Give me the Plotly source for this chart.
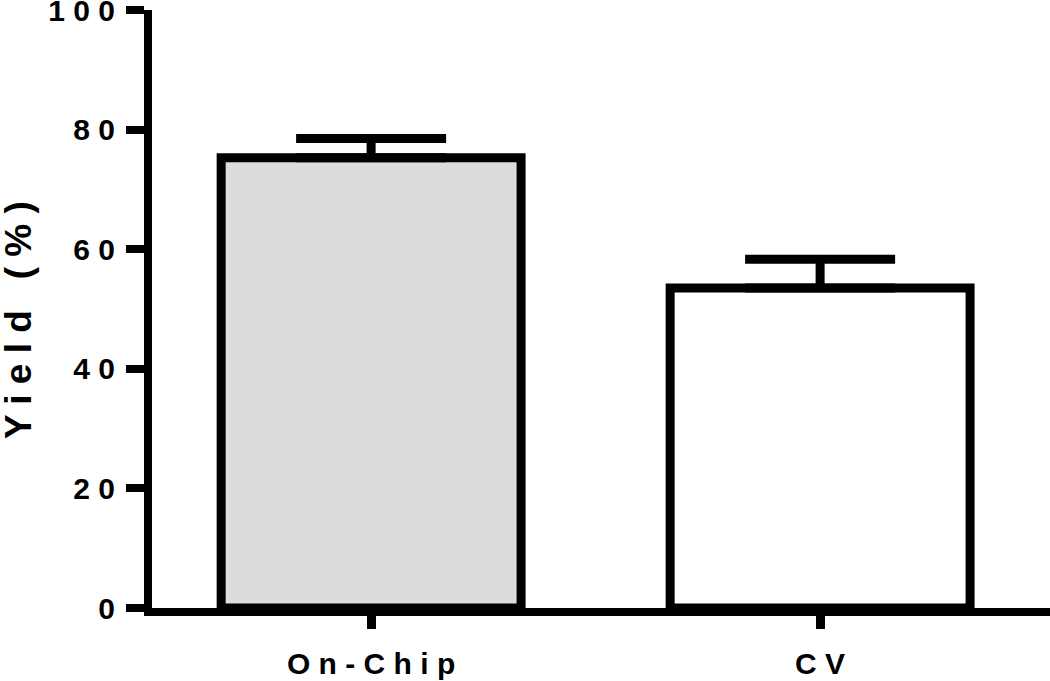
import plotly.graph_objects as go

# values
groups = ["On-Chip", "CV"]
yield_pct = [75.3, 53.5]
yield_err = [3.2, 4.8]
bar_fill = ["#dcdcdc", "#ffffff"]

y_ticks = [0, 20, 40, 60, 80, 100]


def spaced(s):
    # the original uses wide letter spacing
    return " ".join(s)


fig = go.Figure()
fig.add_trace(go.Bar(
    x=groups, y=yield_pct,
    width=0.668,
    marker=dict(color=bar_fill, line=dict(color="black", width=9)),
    error_y=dict(type="data", array=yield_err, arrayminus=[0, 0],
                 symmetric=False, color="black", thickness=9, width=75),
    showlegend=False,
))

font = dict(family="Liberation Sans, Arial, sans-serif", size=30, color="black", weight="bold")

fig.update_xaxes(
    type="category", range=[-0.488, 1.512], automargin=False,
    tickmode="array", tickvals=groups, ticktext=[spaced(g) for g in groups],
    showline=True, linewidth=8, linecolor="black",
    ticks="outside", ticklen=13, tickwidth=9, tickcolor="black",
    ticklabelstandoff=9,
    showgrid=False, zeroline=False, tickfont=font,
)
fig.update_yaxes(
    range=[0, 100], tickmode="array", tickvals=y_ticks, automargin=False,
    ticktext=[spaced(str(t)) for t in y_ticks], ticklabeloverflow="allow",
    showline=True, linewidth=8, linecolor="black",
    ticks="outside", ticklen=18, tickwidth=8, tickcolor="black",
    ticklabelstandoff=5,
    showgrid=False, zeroline=False, tickfont=font,
)

# y title as an annotation so it can sit right against the page edge
fig.add_annotation(
    text="Y i e l d\u00a0\u00a0\u00a0( % )", textangle=-90,
    xref="paper", yref="paper", x=0, y=0.5,
    xanchor="center", yanchor="middle", xshift=-134, yshift=-11,
    showarrow=False, font=dict(font, size=37),
)

fig.update_layout(
    width=1050, height=681, autosize=False,
    margin=dict(l=152, r=0, t=10, b=73),
    plot_bgcolor="white", paper_bgcolor="white",
)

# drop the default page margin so the figure sits at the window corner
fig.write_html("out.html", config={"displayModeBar": False},
               post_script="document.body.style.margin = '0';")
